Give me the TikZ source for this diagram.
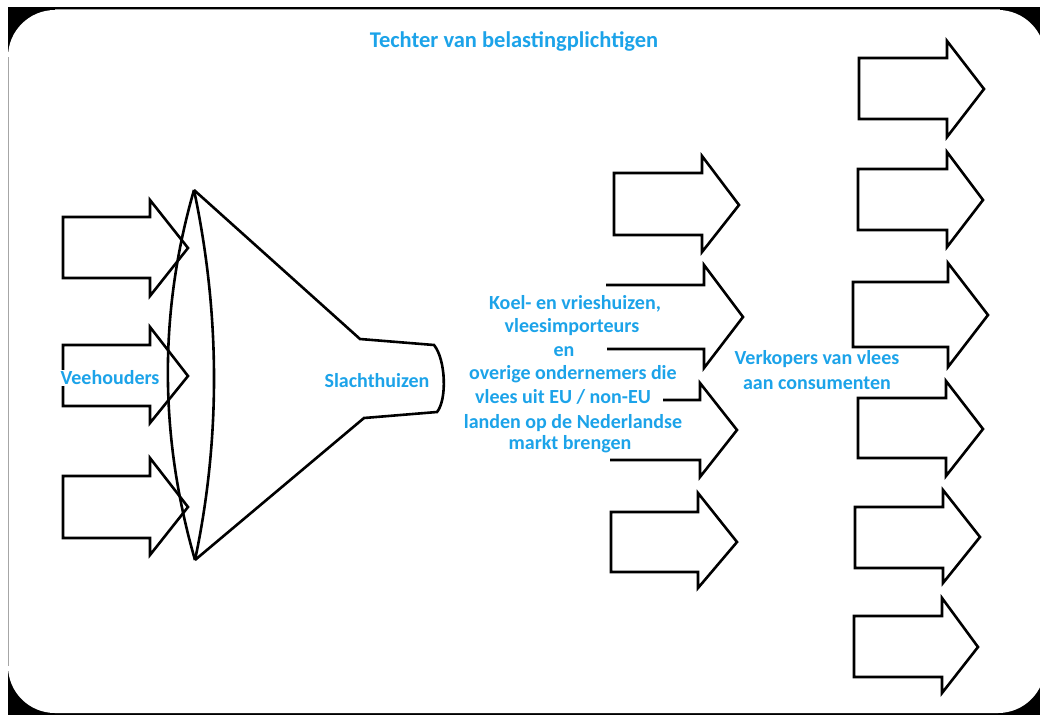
\documentclass[tikz,border=0pt]{standalone}
\usepackage{fontspec}
\setmainfont{Carlito}
\definecolor{txtblue}{RGB}{28,163,233}
\tikzset{
  shapeline/.style={draw=black, line width=2.6pt, line join=miter},
  lbl/.style={text=txtblue, font=\fontsize{20}{23}\selectfont\bfseries, inner sep=0.5pt},
  lblbg/.style={lbl, fill=white},
}
\newcommand\myarrow[8]{% sx st sb hx ht hb tx ty
  \draw[shapeline] (#1,#2) -- (#4,#2) -- (#4,#5) -- (#7,#8) -- (#4,#6) -- (#4,#3) -- (#1,#3) -- cycle;}
\begin{document}
\begin{tikzpicture}[x=1pt,y=-1pt]
\useasboundingbox (0,0) rectangle (1040,715);
\fill[white] (0,0) rectangle (1040,715);
\fill[black] (8,7) rectangle (1040,715);
\fill[white, rounded corners=47pt] (8,10) rectangle (1045,713);
\draw[gray!70, line width=0.8pt] (8.4,57) -- (8.4,666);
\draw[gray!70, line width=0.8pt] (55,9.6) -- (1000,9.6);

% title
\node[lbl, font=\fontsize{22.5}{26}\selectfont\bfseries] (title) at (514,41) {Techter van belastingplichtigen};

% funnel
\draw[shapeline] (194,190) -- (360,339) -- (434,345)
   .. controls (446,360) and (447,400) .. (437,412)
   -- (364,418) -- (195,560);
\draw[shapeline] (194,190) .. controls (158.5,313) and (159.5,437) .. (195,560);
\draw[shapeline] (194,190) .. controls (220,313) and (221,437) .. (195,560);

% left arrows
\myarrow{63}{217}{278}{150}{200}{296}{188}{248}
\myarrow{63}{345}{406}{150}{327}{423}{188}{376}
\myarrow{63}{476}{538}{150}{458}{555}{188}{507}

% middle arrows
\myarrow{614}{173}{235}{702}{156}{252}{739}{205}
\draw[shapeline] (606,285) -- (704,285) -- (704,265) -- (743,317) -- (704,368) -- (704,349) -- (607,349);
\draw[shapeline] (663,400) -- (700,400) -- (700,383) -- (737,430) -- (700,477) -- (700,460) -- (610,460);
\myarrow{611}{512}{572}{698}{493}{588}{737}{542}

% right arrows
\myarrow{859}{58}{119}{947}{41}{137}{984}{89}
\myarrow{858}{169}{230}{947}{152}{247}{983}{200}
\myarrow{853}{282}{347}{948}{263}{367}{988}{315}
\myarrow{858}{398}{458}{946}{381}{476}{983}{429}
\myarrow{855}{507}{568}{943}{490}{583}{980}{537}
\myarrow{854}{616}{677}{942}{598}{693}{978}{647}

% labels
\node[lblbg] (vee) at (110,378) {Veehouders};
\node[lbl] (sla) at (377,381) {Slachthuizen};
\node[lbl] (m1) at (575,304) {Koel- en vrieshuizen,};
\node[lbl] (m2) at (572,327) {vleesimporteurs};
\node[lbl] (m3) at (564,352) {en};
\node[lbl] (m4) at (573,374) {overige ondernemers die};
\node[lbl] (m5) at (563,397) {vlees uit EU / non-EU};
\node[lbl] (m6) at (573,423) {landen op de Nederlandse};
\node[lbl] (m7) at (570,444) {markt brengen};
\node[lbl] (v1) at (817,359) {Verkopers van vlees};
\node[lbl] (v2) at (817,383) {aan consumenten};
\end{tikzpicture}
\end{document}
